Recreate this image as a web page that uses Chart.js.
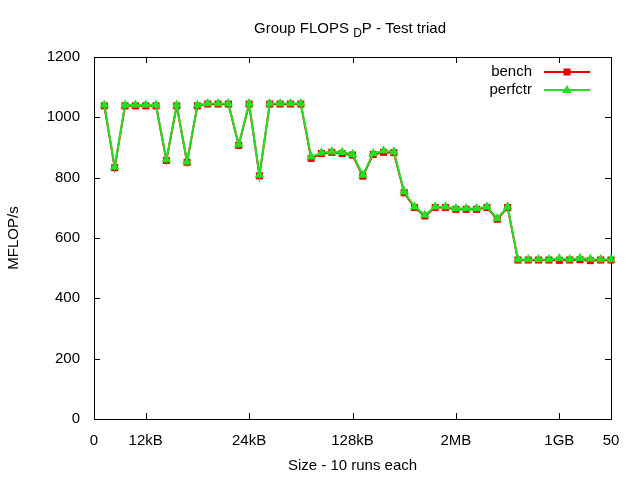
<!DOCTYPE html>
<html>
<head>
<meta charset="utf-8">
<script src="https://cdn.jsdelivr.net/npm/chart.js"></script>
<style>
    html, body { margin: 0; padding: 0; background: #fff; }
    #wrap { width: 640px; height: 480px; }
</style>
</head>
<body>
<div id="wrap"><canvas id="flopsChart" width="640" height="480"></canvas></div>
<script>
// x positions of the runs (one point per size)
const sizes = [1, 2, 3, 4, 5, 6, 7, 8, 9, 10, 11, 12, 13, 14, 15, 16, 17, 18, 19, 20,
    21, 22, 23, 24, 25, 26, 27, 28, 29, 30, 31, 32, 33, 34, 35, 36, 37, 38, 39, 40,
    41, 42, 43, 44, 45, 46, 47, 48, 49, 50];

const benchValues = [1038, 833, 1038, 1038, 1038, 1038, 857, 1038, 851, 1038,
    1044, 1044, 1044, 907, 1044, 806, 1044, 1044, 1044, 1044,
    864, 880, 884, 880, 875, 805, 877, 884, 883, 750,
    701, 673, 701, 701, 695, 695, 695, 701, 662, 701,
    527, 527, 527, 527, 526, 527, 528, 525, 527, 527];

const perfctrValues = [1041, 836, 1041, 1041, 1041, 1041, 860, 1041, 853, 1041,
    1046, 1046, 1046, 910, 1046, 809, 1046, 1046, 1046, 1046,
    869, 883, 886, 884, 878, 809, 880, 889, 886, 753,
    704, 676, 704, 704, 698, 698, 698, 704, 665, 704,
    529, 529, 529, 529, 532, 529, 533, 530, 529, 529];

const xTickValues = [0, 5, 15, 25, 35, 45, 50];
const xTickLabels = ['0', '12kB', '24kB', '128kB', '2MB', '1GB', '50'];
const yTickValues = [0, 200, 400, 600, 800, 1000, 1200];

const FONT = 'Liberation Sans';
const FONT_SIZE = 15;
const BENCH_COLOR = 'rgb(230, 0, 0)';
const PERFCTR_COLOR = 'rgb(34, 224, 34)';

// gnuplot style frame with inward ticks on all four sides
const framePlugin = {
    id: 'frame',
    beforeDatasetsDraw(chart) {
        const { ctx, chartArea: a, scales } = chart;
        ctx.save();
        ctx.strokeStyle = '#000';
        ctx.lineWidth = 1;
        ctx.beginPath();
        yTickValues.forEach(v => {
            const y = Math.round(scales.y.getPixelForValue(v)) + 0.5;
            ctx.moveTo(a.left, y); ctx.lineTo(a.left + 6, y);
            ctx.moveTo(a.right, y); ctx.lineTo(a.right - 6, y);
        });
        xTickValues.forEach(v => {
            const x = Math.round(scales.x.getPixelForValue(v)) + 0.5;
            ctx.moveTo(x, a.bottom); ctx.lineTo(x, a.bottom - 6);
            ctx.moveTo(x, a.top); ctx.lineTo(x, a.top + 6);
        });
        ctx.stroke();
        ctx.strokeRect(Math.round(a.left) + 0.5, Math.round(a.top) + 0.5,
            Math.round(a.right - a.left), Math.round(a.bottom - a.top));
        ctx.restore();
    }
};

// title with the "D" subscript, like gnuplot enhanced text
const titlePlugin = {
    id: 'subTitle',
    afterDraw(chart) {
        const ctx = chart.ctx;
        const parts = [
            { text: 'Group FLOPS ', size: FONT_SIZE, dy: 0 },
            { text: 'D', size: 12, dy: 4 },
            { text: 'P - Test triad', size: FONT_SIZE, dy: 0 }
        ];
        ctx.save();
        ctx.fillStyle = '#000';
        ctx.textBaseline = 'alphabetic';
        let total = 0;
        parts.forEach(p => {
            ctx.font = p.size + 'px "' + FONT + '"';
            p.w = ctx.measureText(p.text).width;
            total += p.w;
        });
        let x = 350 - total / 2;
        parts.forEach(p => {
            ctx.font = p.size + 'px "' + FONT + '"';
            ctx.fillText(p.text, x, 33 + p.dy);
            x += p.w;
        });
        ctx.restore();
    }
};

// legend in the top right corner of the plot
const keyPlugin = {
    id: 'key',
    afterDraw(chart) {
        const ctx = chart.ctx;
        ctx.save();
        ctx.font = FONT_SIZE + 'px "' + FONT + '"';
        ctx.textAlign = 'right';
        ctx.textBaseline = 'middle';
        chart.data.datasets.forEach((ds, i) => {
            const y = 72 + i * 18;
            ctx.fillStyle = '#000';
            ctx.fillText(ds.label, 532, y);
            ctx.strokeStyle = ds.borderColor;
            ctx.lineWidth = 2;
            ctx.beginPath();
            ctx.moveTo(544, y); ctx.lineTo(590, y);
            ctx.stroke();
            ctx.fillStyle = ds.backgroundColor;
            ctx.beginPath();
            if (ds.pointStyle === 'rect') {
                ctx.rect(567 - 3.5, y - 3.5, 7, 7);
            } else {
                ctx.moveTo(567, y - 5);
                ctx.lineTo(567 + 5, y + 3);
                ctx.lineTo(567 - 5, y + 3);
                ctx.closePath();
            }
            ctx.fill();
        });
        ctx.restore();
    }
};

document.addEventListener('DOMContentLoaded', function() {
    const ctx = document.getElementById('flopsChart').getContext('2d');

    new Chart(ctx, {
        type: 'line',
        data: {
            datasets: [{
                label: 'bench',
                data: sizes.map((x, i) => ({ x: x, y: benchValues[i] })),
                borderColor: BENCH_COLOR,
                backgroundColor: BENCH_COLOR,
                borderWidth: 2,
                pointStyle: 'rect',
                pointRadius: 5,
                pointBorderWidth: 0,
                tension: 0,
                clip: false,
                order: 1
            }, {
                label: 'perfctr',
                data: sizes.map((x, i) => ({ x: x, y: perfctrValues[i] })),
                borderColor: PERFCTR_COLOR,
                backgroundColor: PERFCTR_COLOR,
                borderWidth: 2,
                pointStyle: 'triangle',
                pointRadius: 5.5,
                pointBorderWidth: 0,
                tension: 0,
                clip: false,
                order: 0
            }]
        },
        options: {
            responsive: false,
            animation: false,
            devicePixelRatio: 1,
            layout: {
                padding: { top: 57, right: 29, bottom: 0, left: 0 }
            },
            plugins: {
                legend: { display: false },
                title: { display: false },
                tooltip: { enabled: false }
            },
            scales: {
                x: {
                    type: 'linear',
                    min: 0,
                    max: 50,
                    afterBuildTicks: function(axis) {
                        axis.ticks = xTickValues.map(v => ({ value: v }));
                    },
                    afterFit: function(scale) { scale.height = 61; },
                    grid: { display: false, drawTicks: false },
                    border: { display: false },
                    ticks: {
                        autoSkip: false,
                        maxRotation: 0,
                        padding: 13,
                        color: '#000',
                        font: { family: FONT, size: FONT_SIZE },
                        callback: function(value) {
                            return xTickLabels[xTickValues.indexOf(value)];
                        }
                    },
                    title: {
                        display: true,
                        text: 'Size - 10 runs each',
                        color: '#000',
                        font: { family: FONT, size: FONT_SIZE },
                        padding: { top: 0, bottom: 5 }
                    }
                },
                y: {
                    min: 0,
                    max: 1200,
                    afterBuildTicks: function(axis) {
                        axis.ticks = yTickValues.map(v => ({ value: v }));
                    },
                    afterFit: function(scale) { scale.width = 94; },
                    grid: { display: false, drawTicks: false },
                    border: { display: false },
                    ticks: {
                        padding: 14,
                        color: '#000',
                        font: { family: FONT, size: FONT_SIZE },
                        callback: function(value) { return String(value); }
                    },
                    title: {
                        display: true,
                        text: 'MFLOP/s',
                        color: '#000',
                        font: { family: FONT, size: FONT_SIZE },
                        padding: { top: 5, bottom: 0 }
                    }
                }
            }
        },
        plugins: [framePlugin, titlePlugin, keyPlugin]
    });
});
</script>
</body>
</html>
